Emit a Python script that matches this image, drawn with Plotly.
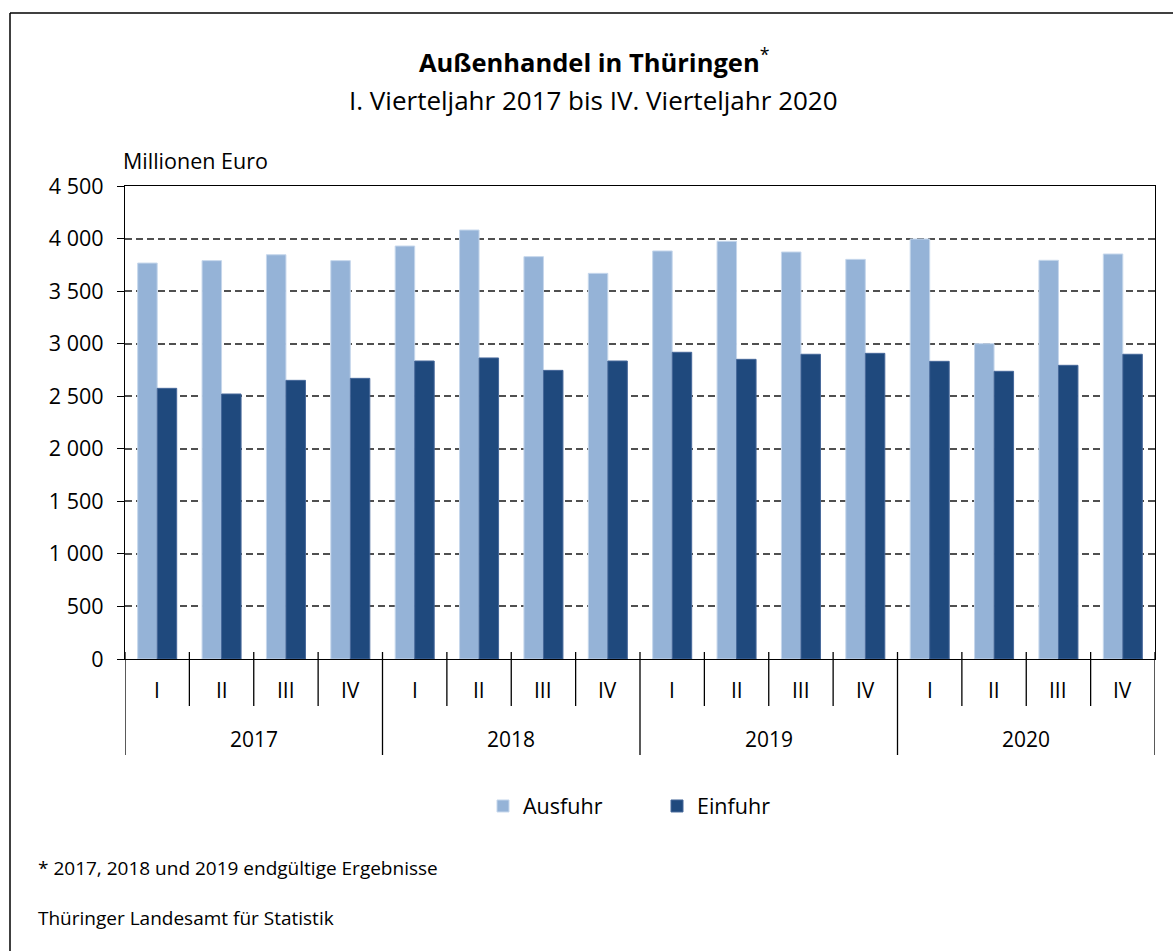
import plotly.graph_objects as go

# ---- data ----
years = ["2017", "2018", "2019", "2020"]
quarters = ["I", "II", "III", "IV"]
ausfuhr = [3767, 3790, 3846, 3790,
           3929, 4081, 3828, 3669,
           3882, 3974, 3872, 3802,
           3996, 3000, 3793, 3853]
einfuhr = [2575, 2521, 2651, 2670,
           2835, 2864, 2746, 2835,
           2918, 2851, 2899, 2908,
           2832, 2737, 2794, 2899]
y_ticks = [0, 500, 1000, 1500, 2000, 2500, 3000, 3500, 4000, 4500]

FONT = "Open Sans"
OFF = 0                      # body margin removed by post_script
W, H = 1173, 951
L, R, T, B = 125 - OFF, 1155 - OFF, 186 - OFF, 659 - OFF  # plot area in figure px

def px(xp):  # xp: page pixel
    return (xp - OFF - L) / (R - L)

def py(yp):  # yp: page pixel
    return (B - (yp - OFF)) / (B - T)

n = len(ausfuhr)
xpos = list(range(n))
ql = [quarters[i % len(quarters)] for i in range(n)]

fig = go.Figure()
fig.add_trace(go.Bar(x=xpos, y=ausfuhr, name="Ausfuhr",
                     marker=dict(color="#95b3d7", line=dict(color="#c6d7ec", width=1))))
fig.add_trace(go.Bar(x=xpos, y=einfuhr, name="Einfuhr",
                     marker=dict(color="#1f497d", line=dict(color="#46689a", width=1))))

shapes = []
annotations = []

# quarter / year boundaries
for k in range(n + 1):
    is_year = (k % len(quarters) == 0)
    shapes.append(dict(type="line", xref="x", yref="paper",
                       x0=k - 0.5, x1=k - 0.5,
                       y0=py(652), y1=py(755 if is_year else 706),
                       line=dict(color="black", width=1.3)))
# quarter labels
for i in range(n):
    annotations.append(dict(x=i, y=py(690), xref="x", yref="paper",
                            text=ql[i], showarrow=False, yanchor="middle",
                            font=dict(family=FONT, size=21, color="black")))
# year labels
for j, yr in enumerate(years):
    c = j * len(quarters) + (len(quarters) - 1) / 2
    annotations.append(dict(x=c, y=py(739), xref="x", yref="paper",
                            text=yr, showarrow=False, yanchor="middle",
                            font=dict(family=FONT, size=21, color="black")))

# titles & texts
annotations += [
    dict(x=px(594), xref="paper", y=py(61), yref="paper", xanchor="center", yanchor="middle",
         text="<b>Außenhandel in Thüringen</b><sup>*</sup>", showarrow=False,
         font=dict(family=FONT, size=25.5, color="black")),
    dict(x=px(593), xref="paper", y=py(100), yref="paper", xanchor="center", yanchor="middle",
         text="I. Vierteljahr 2017 bis IV. Vierteljahr 2020", showarrow=False,
         font=dict(family=FONT, size=26, color="black")),
    dict(x=px(121), y=py(160), xref="paper", yref="paper", xanchor="left", yanchor="middle",
         text="Millionen Euro", showarrow=False, font=dict(family=FONT, size=21.5, color="black")),
    dict(x=px(36), y=py(868), xref="paper", yref="paper", xanchor="left", yanchor="middle",
         text="* 2017, 2018 und 2019 endgültige Ergebnisse", showarrow=False,
         font=dict(family=FONT, size=19, color="black")),
    dict(x=px(36), y=py(918), xref="paper", yref="paper", xanchor="left", yanchor="middle",
         text="Thüringer Landesamt für Statistik", showarrow=False,
         font=dict(family=FONT, size=19, color="black")),
]

# frame
shapes.append(dict(type="line", xref="paper", yref="paper", x0=px(10), x1=px(1180),
                   y0=py(13), y1=py(13), line=dict(color="black", width=1.5)))
shapes.append(dict(type="line", xref="paper", yref="paper", x0=px(10), x1=px(10),
                   y0=py(13), y1=py(960), line=dict(color="black", width=1.5)))

fig.update_layout(
    width=W, height=H,
    margin=dict(l=L, r=W - R, t=T, b=H - B, pad=0),
    paper_bgcolor="white", plot_bgcolor="white",
    barmode="group", bargap=0.394, bargroupgap=0,
    separators=", ",
    font=dict(family=FONT, size=21, color="black"),
    shapes=shapes, annotations=annotations,
    showlegend=True,
    legend=dict(orientation="h", x=px(483), xanchor="left", y=py(806), yanchor="middle",
                font=dict(family=FONT, size=21.5, color="black"),
                entrywidth=129, entrywidthmode="pixels", traceorder="normal"),
)
fig.update_xaxes(range=[-0.5, n - 0.5], showticklabels=False, ticks="",
                 showgrid=False, zeroline=False,
                 showline=True, linecolor="black", linewidth=1.3, mirror=True)
fig.update_yaxes(range=[0, 4500], tickvals=y_ticks, tickformat=",d",
                 ticks="outside", ticklen=7, tickcolor="black", tickwidth=1.3,
                 ticklabelstandoff=9,
                 showgrid=True, gridcolor="#505050", gridwidth=1.5, griddash="7px,4px",
                 zeroline=False, showline=True, linecolor="black", linewidth=1.3, mirror=True,
                 tickfont=dict(family=FONT, size=21.5, color="black"))

fig.write_html("out.html", config={"displayModeBar": False},
               post_script="document.body.style.margin='0px';"
                           "document.documentElement.style.overflow='hidden';")
